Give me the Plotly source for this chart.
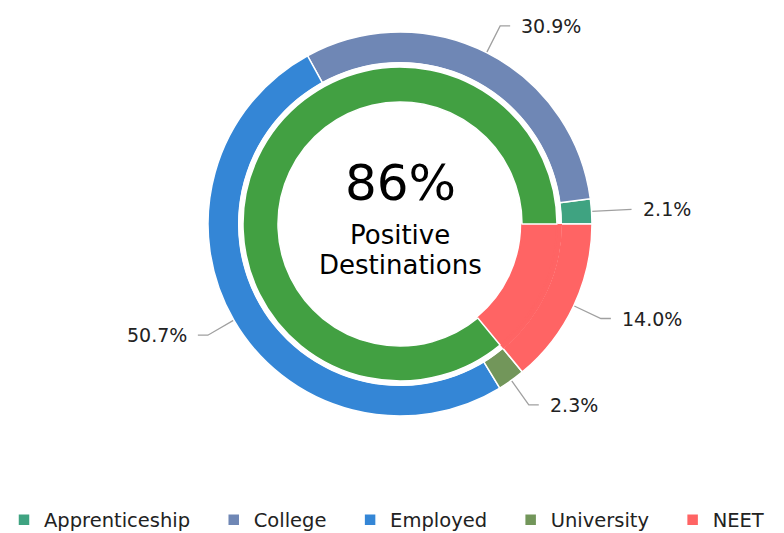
import math
import plotly.graph_objects as go

# ---- data ----
categories = ["Apprenticeship", "College", "Employed", "University", "NEET"]
shares = [2.1, 30.9, 50.7, 2.3, 14.0]
colors = ["#3FA381", "#6F87B5", "#3486D6", "#72965A", "#FF6464"]
positive_share = 86
positive_label = "Positive"
negative_label = "NEET"
positive_color = "#42A042"
centre_value = "86%"
centre_text = ["Positive", "Destinations"]

# ---- layout geometry (pixels) ----
W, H = 784, 533
cx, cy = 400, 224
R_OUT, R_OUT_HOLE = 192, 161
R_IN, R_IN_HOLE = 157, 122
FONT = "DejaVu Sans, Verdana, sans-serif"


def dom(r):
    return dict(x=[(cx - r) / W, (cx + r) / W],
                y=[1 - (cy + r) / H, 1 - (cy - r) / H])


total = sum(shares)
fig = go.Figure()

# outer ring: categories (first slice ends at 3 o'clock, then counterclockwise)
legend_names = [c + ("\u00a0" * 3 if i < len(categories) - 1 else "")
                for i, c in enumerate(categories)]
fig.add_trace(go.Pie(
    labels=legend_names, values=shares, sort=False, direction="counterclockwise",
    rotation=90 - 360 * shares[0] / total, hole=R_OUT_HOLE / R_OUT, domain=dom(R_OUT),
    marker=dict(colors=colors, line=dict(color="white", width=1.5)),
    textinfo="none", hoverinfo="label+percent", showlegend=True,
))

neg_share = 100 - positive_share
neg_color = colors[categories.index(negative_label)]

# thin filler ring bridging the gap between the rings (red only across NEET)
fig.add_trace(go.Pie(
    labels=["_" + negative_label, "_" + positive_label], values=[neg_share, positive_share],
    sort=False, direction="counterclockwise", rotation=90,
    hole=(R_IN - 1) / (R_OUT_HOLE + 1), domain=dom(R_OUT_HOLE + 1),
    marker=dict(colors=[neg_color, "white"], line=dict(width=0)),
    textinfo="none", hoverinfo="skip", showlegend=False,
))

# inner ring: positive destinations
fig.add_trace(go.Pie(
    labels=["_" + negative_label, "_" + positive_label], values=[neg_share, positive_share],
    sort=False, direction="counterclockwise", rotation=90,
    hole=R_IN_HOLE / R_IN, domain=dom(R_IN),
    marker=dict(colors=[neg_color, positive_color],
                line=dict(color=[neg_color, "white"], width=1.5)),
    textinfo="none", hoverinfo="percent", showlegend=False,
))

# leader lines + labels derived from the data
cum = 0.0
annotations = []
for cat, v in zip(categories, shares):
    theta = math.radians(360 * (cum + v / 2) / total)
    cum += v
    x0 = cx + R_OUT * math.cos(theta)
    y0 = cy - R_OUT * math.sin(theta)
    x1 = cx + (R_OUT + 30) * math.cos(theta)
    y1 = cy - (R_OUT + 30) * math.sin(theta)
    side = 1 if math.cos(theta) >= 0 else -1
    x2 = x1 + 10 * side
    fig.add_trace(go.Scatter(
        x=[x0, x1, x2], y=[y0, y1, y1], mode="lines",
        line=dict(color="#A0A0A0", width=1.3), hoverinfo="skip", showlegend=False,
    ))
    annotations.append(dict(
        x=x2 + 9 * side, y=y1, xref="x", yref="y", text=f"{v:.1f}%",
        showarrow=False, xanchor="left" if side > 0 else "right", yanchor="middle",
        font=dict(family=FONT, size=19, color="#222222"),
    ))

annotations.append(dict(x=cx, y=183, xref="x", yref="y", text=centre_value,
                        showarrow=False, font=dict(family=FONT, size=50, color="#000000")))
annotations.append(dict(x=cx, y=235, xref="x", yref="y", text=centre_text[0],
                        showarrow=False, font=dict(family=FONT, size=26, color="#000000")))
annotations.append(dict(x=cx, y=265, xref="x", yref="y", text=centre_text[1],
                        showarrow=False, font=dict(family=FONT, size=26, color="#000000")))

fig.update_layout(
    width=W, height=H, autosize=False,
    margin=dict(l=0, r=0, t=0, b=0, autoexpand=False),
    paper_bgcolor="white", plot_bgcolor="white",
    xaxis=dict(range=[0, W], visible=False, fixedrange=True, domain=[0, 1]),
    yaxis=dict(range=[H, 0], visible=False, fixedrange=True, domain=[0, 1]),
    annotations=annotations,
    legend=dict(orientation="h", x=4 / W, xanchor="left", y=1 - 520 / H, yanchor="middle",
                font=dict(family=FONT, size=19.5, color="#222222"),
                bgcolor="rgba(0,0,0,0)", traceorder="normal"),
)

fig.write_html("out.html", config={"displayModeBar": False},
               post_script="document.body.style.margin='0';")
